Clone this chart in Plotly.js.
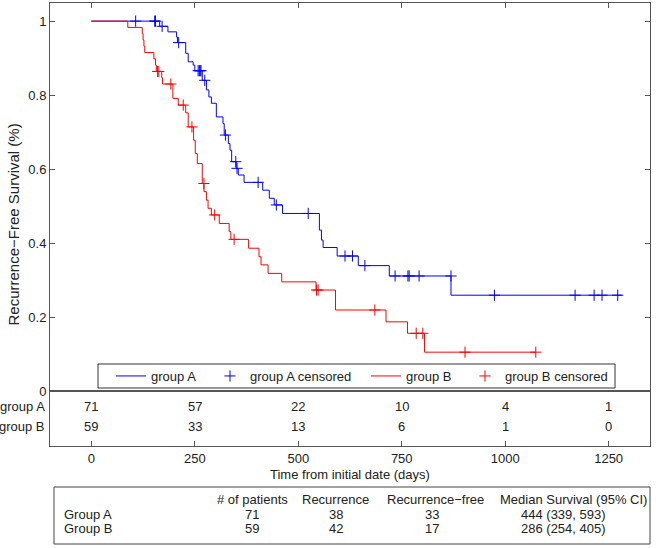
<!DOCTYPE html>
<html>
<head>
<meta charset="utf-8">
<script src="https://cdn.plot.ly/plotly-3.0.1.min.js"></script>
<style>html,body{margin:0;padding:0;background:#fff;}#chart{width:662px;height:548px;}</style>
</head>
<body>
<div id="chart"></div>
<script>
// ---- Data ----
const timeA = [0,165,185,206,208,228,234,246,250,268,278,284,290,302,318,321,331,335,339,350,355,369,414,430,442,462,551,556,560,594,645,720,869];
const survA = [1,.986,.971,.957,.942,.913,.890,.881,.866,.840,.814,.795,.778,.741,.723,.692,.669,.651,.620,.602,.584,.564,.543,.521,.503,.480,.435,.408,.388,.365,.339,.311,.259];
const endA = 1282;
const censA_t = [107,153,155,171,211,258,261,263,265,274,324,349,352,403,447,524,613,631,661,734,765,768,792,869,974,1169,1215,1234,1272];
const censA_s = [1,1,1,.986,.942,.866,.866,.866,.866,.840,.692,.620,.602,.564,.503,.480,.365,.365,.339,.311,.311,.311,.311,.311,.259,.259,.259,.259,.259];

const timeB = [0,88,123,125,127,129,151,155,157,170,172,197,210,228,234,247,251,256,268,272,278,282,290,309,333,337,380,405,410,427,460,543,590,712,764,805];
const survB = [1,.983,.966,.949,.932,.915,.898,.881,.864,.847,.830,.791,.773,.752,.714,.678,.642,.615,.561,.539,.516,.494,.476,.453,.431,.410,.386,.363,.341,.318,.295,.273,.219,.187,.156,.105];
const endB = 1074;
const censB_t = [160,163,192,222,243,272,298,345,544,548,685,785,801,903,1074];
const censB_s = [.864,.864,.830,.773,.714,.561,.476,.410,.273,.273,.219,.156,.156,.105,.105];

const groupNames = ['group A','group B'];
const riskTimes = [0,250,500,750,1000,1250];
const riskA = [71,57,22,10,4,1];
const riskB = [59,33,13,6,1,0];

const yTickVals = [0,0.2,0.4,0.6,0.8,1];
const yTickText = ['0','0.2','0.4','0.6','0.8','1'];

const tableHeaders = ['# of patients','Recurrence','Recurrence\u2212free','Median Survival (95% CI)'];
const tableRowNames = ['Group A','Group B'];
const tableRowA = ['71','38','33','444 (339, 593)'];
const tableRowB = ['59','42','17','286 (254, 405)'];

// ---- Layout helpers (pixel -> paper) ----
const W = 662, H = 548;
const mL = 50, mR = 12, mT = 3, mB = 102;
const plotW = W - mL - mR, plotH = H - mT - mB;
function PX(px){ return (px - mL) / plotW; }
function PY(py){ return (H - mB - py) / plotH; }

const FONT = 'Liberation Sans, Arial, Helvetica, sans-serif';
const TXT = '#222';
const AX = '#555';
const BLUE = '#0000ff', RED = '#ff0000';

const traces = [
  {x: timeA.concat([endA]), y: survA.concat([survA[survA.length-1]]), mode:'lines', line:{shape:'hv', color:BLUE, width:1}, name:'group A', legendwidth:54, hoverinfo:'skip'},
  {x: censA_t, y: censA_s, mode:'markers', marker:{symbol:'cross-thin', size:8, line:{color:BLUE, width:1}, color:BLUE}, name:'group A censored', legendwidth:111, hoverinfo:'skip'},
  {x: timeB.concat([endB]), y: survB.concat([survB[survB.length-1]]), mode:'lines', line:{shape:'hv', color:RED, width:1}, name:'group B', legendwidth:54, hoverinfo:'skip'},
  {x: censB_t, y: censB_s, mode:'markers', marker:{symbol:'cross-thin', size:8, line:{color:RED, width:1}, color:RED}, name:'group B censored', legendwidth:108, hoverinfo:'skip'}
];

const mainBottom = PY(391);
const annotations = [];

// risk table
groupNames.forEach(function(g, i){
  const py = i === 0 ? 406 : 426;
  const vals = i === 0 ? riskA : riskB;
  annotations.push({xref:'paper', yref:'paper', x:PX(47), y:PY(py), text:g, showarrow:false, xanchor:'right', yanchor:'middle', font:{family:FONT, size:13, color:TXT}});
  riskTimes.forEach(function(t, j){
    annotations.push({xref:'x2', yref:'paper', x:t, y:PY(py), text:String(vals[j]), showarrow:false, xanchor:'center', yanchor:'middle', font:{family:FONT, size:13, color:TXT}});
  });
});

// axis titles
annotations.push({xref:'paper', yref:'paper', x:PX(350), y:PY(475), text:'Time from initial date (days)', showarrow:false, xanchor:'center', yanchor:'middle', font:{family:FONT, size:13, color:TXT}});
annotations.push({xref:'paper', yref:'paper', x:PX(13), y:PY(224.5), text:'Recurrence\u2212Free Survival (%)', textangle:-90, showarrow:false, xanchor:'center', yanchor:'middle', font:{family:FONT, size:15, color:TXT}});

// bottom table
const headX = [252, 335, 435, 573];
const valX = [252, 336, 432, 563];
tableHeaders.forEach(function(h, j){
  annotations.push({xref:'paper', yref:'paper', x:PX(headX[j]), y:PY(499.5), text:h, showarrow:false, xanchor:'center', yanchor:'middle', font:{family:FONT, size:13, color:TXT}});
});
[tableRowA, tableRowB].forEach(function(row, i){
  const py = i === 0 ? 514 : 528.5;
  annotations.push({xref:'paper', yref:'paper', x:PX(62), y:PY(py), text:tableRowNames[i], showarrow:false, xanchor:'left', yanchor:'middle', font:{family:FONT, size:13, color:TXT}});
  row.forEach(function(v, j){
    annotations.push({xref:'paper', yref:'paper', x:PX(valX[j]), y:PY(py), text:v, showarrow:false, xanchor:'center', yanchor:'middle', font:{family:FONT, size:13, color:TXT}});
  });
});

const shapes = [
  {type:'rect', xref:'paper', yref:'paper', x0:PX(98), x1:PX(615), y0:PY(388), y1:PY(364), line:{color:'#333', width:1}, fillcolor:'#fff', layer:'above'},
  {type:'rect', xref:'paper', yref:'paper', x0:PX(54), x1:PX(650), y0:PY(544), y1:PY(487), line:{color:'#444', width:1}, fillcolor:'rgba(0,0,0,0)'}
];

const layout = {
  width:W, height:H,
  margin:{l:mL, r:mR, t:mT, b:mB, pad:0},
  paper_bgcolor:'#fff', plot_bgcolor:'#fff',
  font:{family:FONT, size:13, color:TXT},
  showlegend:true,
  legend:{orientation:'h', x:PX(111), xanchor:'left', y:PY(376), yanchor:'middle', bgcolor:'rgba(0,0,0,0)', borderwidth:0, font:{family:FONT, size:13, color:TXT}},
  xaxis:{domain:[0,1], anchor:'y', range:[-100,1350], side:'top', tickvals:riskTimes, ticks:'inside', ticklen:5, tickcolor:AX, showticklabels:false, showline:true, linecolor:AX, linewidth:1, mirror:true, showgrid:false, zeroline:false, fixedrange:true},
  yaxis:{domain:[mainBottom,1], anchor:'x', range:[0,1.049], tickvals:yTickVals, ticktext:yTickText, ticks:'inside', ticklen:5, tickcolor:AX, showline:true, linecolor:AX, linewidth:1, mirror:'ticks', showgrid:false, zeroline:false, tickfont:{family:FONT, size:13, color:TXT}, fixedrange:true},
  xaxis2:{domain:[0,1], anchor:'y2', range:[-100,1350], tickvals:riskTimes, ticktext:riskTimes.map(String), ticks:'inside', ticklen:5, tickcolor:AX, showline:true, linecolor:AX, linewidth:1, mirror:true, showgrid:false, zeroline:false, tickfont:{family:FONT, size:13, color:TXT}, fixedrange:true},
  yaxis2:{domain:[0,mainBottom], anchor:'x2', range:[0,1], showticklabels:false, ticks:'', showline:true, linecolor:AX, linewidth:1, mirror:true, showgrid:false, zeroline:false, fixedrange:true},
  annotations:annotations,
  shapes:shapes
};

Plotly.newPlot('chart', traces, layout, {displayModeBar:false, staticPlot:true});
</script>
</body>
</html>
